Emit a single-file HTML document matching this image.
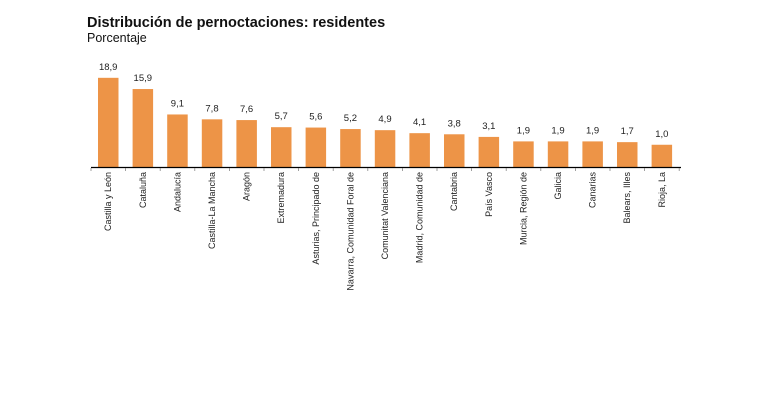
<!DOCTYPE html>
<html><head><meta charset="utf-8"><style>
html,body{margin:0;padding:0;background:#fff;width:781px;height:407px;overflow:hidden}
svg{display:block}
text{font-family:"Liberation Sans",Arial,sans-serif}
</style></head><body>
<svg width="781" height="407" viewBox="0 0 781 407" xmlns="http://www.w3.org/2000/svg">
<text x="87" y="27" font-size="14.5" font-weight="bold" fill="#111">Distribución de pernoctaciones: residentes</text>
<text x="87" y="42" font-size="12.5" fill="#111">Porcentaje</text>
<g id="bars"></g>
<line x1="91" y1="167.5" x2="681" y2="167.5" stroke="#000" stroke-width="1.3"/>
<g id="ticks" stroke="#888" stroke-width="0.8"></g>
<g id="labels" font-size="9" fill="#222"></g>
</svg>
<script>
var d=[["Castilla y León",18.9],["Cataluña",15.9],["Andalucía",9.1],["Castilla-La Mancha",7.8],["Aragón",7.6],["Extremadura",5.7],["Asturias, Principado de",5.6],["Navarra, Comunidad Foral de",5.2],["Comunitat Valenciana",4.9],["Madrid, Comunidad de",4.1],["Cantabria",3.8],["País Vasco",3.1],["Murcia, Región de",1.9],["Galicia",1.9],["Canarias",1.9],["Balears, Illes",1.7],["Rioja, La",1.0]];
var ns="http://www.w3.org/2000/svg",b=document.getElementById("bars"),t=document.getElementById("ticks"),l=document.getElementById("labels");
function el(n,a,p,txt){var e=document.createElementNS(ns,n);for(var k in a)e.setAttribute(k,a[k]);if(txt)e.textContent=txt;p.appendChild(e);return e;}
for(var i=0;i<d.length;i++){
 var x=98+i*34.6,h=18.5+3.74*d[i][1],y=167-h,cx=x+10.2;
 el("rect",{x:x,y:y,width:20.5,height:h,fill:"#ED9447"},b);
 el("text",{x:cx,y:y-8,"text-anchor":"middle","font-size":"9.5",fill:"#222"},b,d[i][0]?d[i][1].toFixed(1).replace(".",","):"");
 el("text",{transform:"translate("+(cx+3)+",172) rotate(-90)","text-anchor":"end"},l,d[i][0]);
}
for(var j=0;j<=17;j++){var tx=91+j*34.6;el("line",{x1:tx,y1:168,x2:tx,y2:171},t);}
</script>
</body></html>
